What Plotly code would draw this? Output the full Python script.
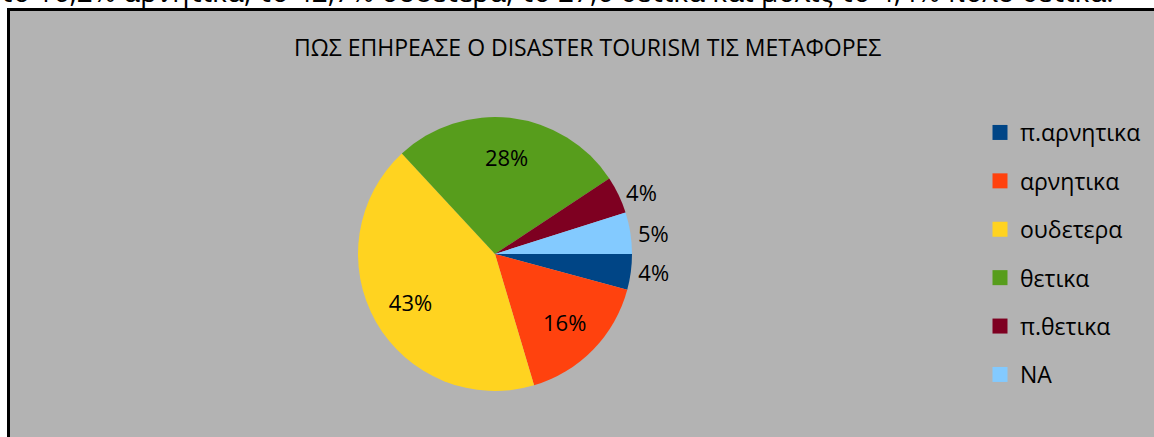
import plotly.graph_objects as go

labels = ["π.αρνητικα", "αρνητικα", "ουδετερα", "θετικα", "π.θετικα", "NA"]
values = [4.2, 16.2, 42.7, 27.6, 4.4, 4.9]
colors = ["#004586", "#ff420e", "#ffd320", "#579d1c", "#7e0021", "#83caff"]
text_pos = ["outside", "inside", "inside", "inside", "outside", "outside"]
title = "ΠΩΣ ΕΠΗΡΕΑΣΕ Ο DISASTER TOURISM ΤΙΣ ΜΕΤΑΦΟΡΕΣ"
top_text = "το 16,2% αρνητικα, το 42,7% ουδετερα, το 27,6 θετικα και μολις το 4,4% πολυ θετικα."

W, H = 1154, 437
FONT = "Open Sans"
dom = dict(x=[(495 - 137) / W, (495 + 137) / W], y=[(183 - 137) / H, (183 + 137) / H])

fig = go.Figure()
# coloured pie
fig.add_trace(go.Pie(
    labels=labels, values=values, sort=False, direction="clockwise", rotation=90,
    marker=dict(colors=colors, line=dict(width=0)),
    textinfo="none", showlegend=False, hoverinfo="skip", domain=dom,
))
# label layer (ring so that inside labels sit further out)
fig.add_trace(go.Pie(
    labels=labels, values=values, sort=False, direction="clockwise", rotation=90,
    hole=0.42,
    marker=dict(colors=["rgba(0,0,0,0)"] * len(labels), line=dict(width=0)),
    texttemplate="%{percent:.0%}", textposition=text_pos,
    insidetextorientation="horizontal",
    textfont=dict(family=FONT, size=22, color="black"),
    showlegend=False, domain=dom,
))

for lab, col in zip(labels, colors):
    fig.add_trace(go.Scatter(
        x=[None], y=[None], mode="markers", name=lab, legendgroup=lab,
        marker=dict(symbol="square", size=15, color=col),
    ))

fig.update_layout(
    width=W, height=H,
    margin=dict(l=0, r=0, t=0, b=0),
    paper_bgcolor="white", plot_bgcolor="rgba(0,0,0,0)",
    xaxis=dict(visible=False), yaxis=dict(visible=False),
    showlegend=True,
    legend=dict(x=980 / W, y=1 - 111 / H, xanchor="left", yanchor="top",
                bgcolor="rgba(0,0,0,0)", tracegroupgap=15.5,
                font=dict(family=FONT, size=23, color="black"), itemwidth=30),
    shapes=[dict(type="rect", xref="paper", yref="paper",
                 x0=8.5 / W, x1=1.02, y0=-0.02, y1=1 - 9.5 / H,
                 line=dict(color="black", width=3), fillcolor="#b3b3b3", layer="below")],
    annotations=[
        dict(text=title, x=587 / W, y=1 - 47 / H, xref="paper", yref="paper",
             showarrow=False, xanchor="center", yanchor="middle",
             font=dict(family=FONT, size=23, color="black")),
        dict(text=top_text, x=-2 / W, y=1 - 12 / H, xref="paper", yref="paper",
             showarrow=False, xanchor="left", yanchor="bottom",
             font=dict(family=FONT, size=28, color="black")),
    ],
)

fig.write_html("out.html", config={"displayModeBar": False},
               post_script="document.body.style.margin='0';document.body.style.overflow='hidden';")
